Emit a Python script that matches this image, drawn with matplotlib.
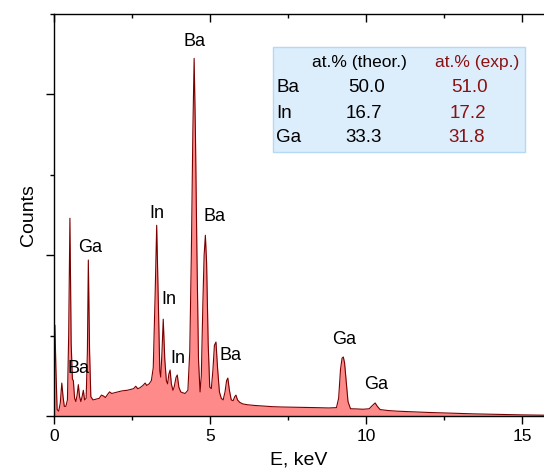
import matplotlib
matplotlib.use('Agg')
import matplotlib.pyplot as plt
from matplotlib.patches import Rectangle
from matplotlib.ticker import MultipleLocator

plt.rcParams.update({
    'font.family': ['Liberation Sans', 'DejaVu Sans'],
    'font.size': 12,
})

LINE = '#7a0000'
FILL = '#ff8a8a'
EXP = '#8b1010'

# EDS spectrum (energy keV, counts in arbitrary units)
energy = [0.00, 0.03, 0.06, 0.10, 0.15, 0.20, 0.25, 0.29, 0.33, 0.38, 0.43, 0.47,
          0.51, 0.55, 0.59, 0.62, 0.66, 0.70, 0.74, 0.78, 0.82, 0.86, 0.90, 0.94,
          0.98, 1.03, 1.07, 1.10, 1.14, 1.18, 1.25, 1.35, 1.45, 1.52, 1.58, 1.65,
          1.72, 1.78, 1.85, 1.95, 2.05, 2.15, 2.25, 2.35, 2.45, 2.55, 2.62, 2.68,
          2.75, 2.85, 2.92, 2.97, 3.05, 3.12, 3.18, 3.24, 3.29, 3.34, 3.39, 3.42,
          3.46, 3.50, 3.55, 3.60, 3.64, 3.68, 3.72, 3.76, 3.81, 3.85, 3.91, 3.95,
          4.00, 4.06, 4.12, 4.20, 4.29, 4.35, 4.40, 4.45, 4.49, 4.53, 4.58, 4.63,
          4.68, 4.72, 4.77, 4.81, 4.85, 4.89, 4.94, 4.99, 5.04, 5.09, 5.14, 5.19,
          5.24, 5.30, 5.36, 5.42, 5.48, 5.53, 5.57, 5.62, 5.68, 5.74, 5.79, 5.83,
          5.88, 5.95, 6.05, 6.20, 6.40, 6.70, 7.00, 7.30, 7.60, 8.00, 8.40, 8.80,
          9.05, 9.12, 9.18, 9.23, 9.27, 9.31, 9.36, 9.42, 9.50, 9.70, 9.90, 10.10,
          10.20, 10.29, 10.36, 10.45, 10.70, 11.00, 11.50, 12.00, 12.50, 13.00,
          13.50, 14.00, 14.50, 15.00, 15.70]
counts = [20, 565, 300, 40, 30, 80, 205, 120, 60, 60, 100, 500,
          1230, 450, 230, 220, 110, 90, 130, 195, 120, 90, 120, 160,
          100, 110, 400, 970, 400, 120, 100, 105, 110, 130, 125, 115,
          135, 150, 140, 145, 150, 155, 158, 160, 165, 170, 185, 170,
          175, 190, 205, 190, 200, 220, 300, 750, 1186, 720, 280, 242,
          400, 602, 350, 220, 200, 260, 286, 200, 160, 180, 240, 255,
          180, 150, 145, 140, 160, 400, 1000, 1780, 2224, 1780, 1000, 350,
          150, 250, 700, 1000, 1124, 950, 450, 180, 170, 280, 440, 460,
          300, 150, 110, 100, 150, 220, 236, 160, 100, 95, 120, 130,
          100, 85, 75, 70, 66, 62, 58, 56, 55, 53, 52, 50,
          52, 110, 290, 360, 367, 330, 220, 90, 45, 44, 42, 45,
          65, 81, 60, 40, 34, 30, 26, 22, 19, 16,
          13, 11, 9, 7, 5]

# peak labels: text, energy, counts
peak_text = ['Ba', 'In', 'Ba', 'Ga', 'In', 'In', 'Ba', 'Ba', 'Ga', 'Ga']
peak_x = [4.49, 3.30, 5.13, 1.15, 3.69, 3.97, 5.67, 0.77, 9.29, 10.32]
peak_y = [2329, 1261, 1242, 1050, 727, 360, 379, 298, 478, 193]

# composition table
elements = ['Ba', 'In', 'Ga']
theor = ['50.0', '16.7', '33.3']
expt = ['51.0', '17.2', '31.8']

W, H = 544, 468
fig = plt.figure(figsize=(W / 100, H / 100), dpi=100)
ax = fig.add_axes([54 / W, 1 - 416 / H, 1 - 54 / W, (416 - 14) / H])

ax.fill_between(energy, counts, 0, color=FILL, lw=0)
ax.plot(energy, counts, color=LINE, lw=0.8)

for t, x, y in zip(peak_text, peak_x, peak_y):
    ax.text(x, y, t, ha='center', va='center', fontsize=13)

ax.set_xlim(0, 15.7)
ax.set_ylim(0, 2500)
ax.xaxis.set_major_locator(MultipleLocator(5))
ax.xaxis.set_minor_locator(MultipleLocator(2.5))
ax.yaxis.set_major_locator(MultipleLocator(1000))
ax.yaxis.set_minor_locator(MultipleLocator(500))
ax.set_yticklabels([])
ax.tick_params(axis='x', which='major', direction='out', length=6, width=1,
               labelsize=12.5, top=False)
ax.tick_params(axis='x', which='minor', direction='out', length=3, width=1, top=False)
ax.tick_params(axis='y', which='major', direction='out', length=6, width=1)
ax.tick_params(axis='y', which='minor', direction='out', length=3, width=1)
ax.spines['right'].set_visible(False)
for s in ['left', 'bottom', 'top']:
    ax.spines[s].set_linewidth(1.0)

# inward ticks on the top spine
top = ax.secondary_xaxis('top')
top.xaxis.set_major_locator(MultipleLocator(5))
top.xaxis.set_minor_locator(MultipleLocator(2.5))
top.tick_params(which='major', direction='in', length=6, width=1, labeltop=False)
top.tick_params(which='minor', direction='in', length=3, width=1)
top.spines['top'].set_visible(False)

ax.set_xlabel('E, keV', fontsize=14, labelpad=5)
ax.set_ylabel('Counts', fontsize=14, labelpad=3)

# table box
def fx(px):
    return px / W

def fy(py):
    return 1 - py / H

fig.patches.append(Rectangle((fx(273), fy(152)), (525 - 273) / W, (152 - 47) / H,
                             transform=fig.transFigure, facecolor='#dcedfc',
                             edgecolor='#b5d9f2', lw=1.0, zorder=5))
fig.text(fx(359), fy(63), 'at.% (theor.)', ha='center', va='center', fontsize=12.5, zorder=6)
fig.text(fx(477), fy(63), 'at.% (exp.)', ha='center', va='center', fontsize=12.5,
         color=EXP, zorder=6)
row_y = [88, 113, 137]
theor_x = [367, 364, 364]
expt_x = [470, 468, 467]
for el, th, ex, ry, tx, ex_x in zip(elements, theor, expt, row_y, theor_x, expt_x):
    fig.text(fx(276), fy(ry), el, ha='left', va='center', fontsize=13.5, zorder=6)
    fig.text(fx(tx), fy(ry), th, ha='center', va='center', fontsize=13.5, zorder=6)
    fig.text(fx(ex_x), fy(ry), ex, ha='center', va='center', fontsize=13.5,
             color=EXP, zorder=6)

fig.savefig('out.png', dpi=100)
